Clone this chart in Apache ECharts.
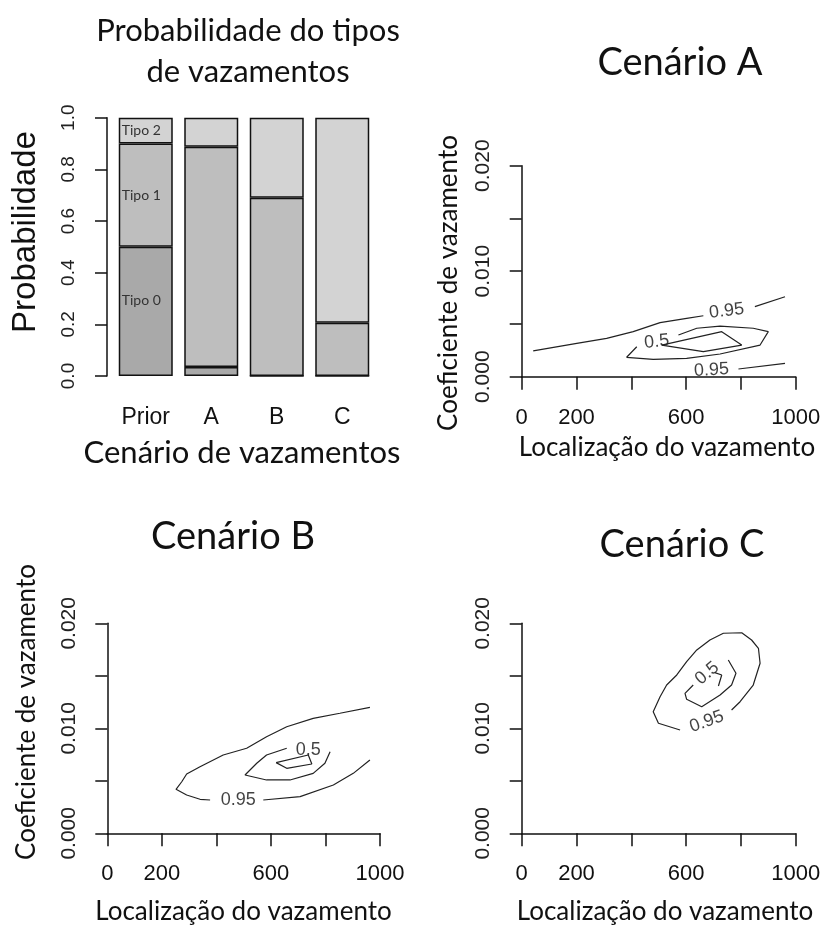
<!DOCTYPE html>
<html>
<head>
<meta charset="utf-8">
<script src="https://cdn.jsdelivr.net/npm/echarts@6/dist/echarts.min.js"></script>
<style>
html,body{margin:0;padding:0;background:#fff;}
#c{width:824px;height:929px;}
</style>
</head>
<body>
<div id="c"></div>
<script>
// ---------- data ----------
const categories = ['Prior', 'A', 'B', 'C'];
const tipo0 = [0.5, 0.035, 0, 0];
const tipo1 = [0.4, 0.853, 0.69, 0.206];
const tipo2 = [0.1, 0.112, 0.31, 0.794];
const tipoNames = ['Tipo 0', 'Tipo 1', 'Tipo 2'];
const barYTickLabels = ['0.0', '0.2', '0.4', '0.6', '0.8', '1.0'];

const xTickLabels = ['0', '200', '', '600', '', '1000'];
const yTickLabels = ['0.000', '', '0.010', '', '0.020'];

// Cenário A contours
const A95upperLeft = [[42,0.00244],[201,0.00316],[310,0.00364],[407,0.00427],[505,0.00512],[602,0.00553],[663,0.00578]];
const A95upperRight = [[851,0.00664],[961,0.00758]];
const A95lowerRight = [[791,0.00073],[961,0.00127]];
const A50 = [[572,0.00395],[639,0.00459],[724,0.0048],[845,0.00459],[900,0.00427],[870,0.0030],[724,0.00215],[602,0.00174],[480,0.00165],[383,0.00184],[420,0.00284]];
const Ainner = [[511,0.0030],[730,0.00427],[803,0.0030],[663,0.00237],[511,0.0030]];
const Alabels = [[748,0.00623,'0.95'],[493,0.00332,'0.5'],[693,0.00063,'0.95']];

// Cenário B contours
const B95right = [[572,0.00317],[707,0.00349],[829,0.0046],[902,0.00571],[963,0.00698]];
const B95left = [[377,0.00317],[340,0.00324],[291,0.00365],[252,0.00419],[273,0.00491],[291,0.00565],[340,0.00634],[425,0.00746],[511,0.0081],[584,0.0092],[658,0.01015],[755,0.01095],[853,0.01143],[963,0.012]];
const B50 = [[658,0.0081],[584,0.00746],[548,0.00667],[505,0.00555],[584,0.00508],[670,0.00508],[755,0.00571],[798,0.00667],[817,0.00777]];
const Binner = [[619,0.00673],[737,0.00746],[750,0.0066],[658,0.00619],[619,0.00673]];
const Blabels = [[480,0.00317,'0.95'],[737,0.00793,'0.5']];

// Cenário C contours
const C95 = [[766,0.01174],[797,0.01253],[845,0.01412],[870,0.01619],[864,0.01762],[839,0.01841],[803,0.0191],[736,0.01905],[687,0.01841],[639,0.01746],[602,0.01634],[566,0.01508],[529,0.01412],[505,0.01301],[480,0.01158],[499,0.01048],[578,0.00984]];
const C50 = [[754,0.0165],[782,0.01524],[766,0.01412],[724,0.01317],[657,0.01206],[602,0.01276],[596,0.01333],[626,0.01412]];
const Cinner = [[705,0.0153],[730,0.01508],[718,0.01403]];
const Clabels = [[675,0.01063,'0.95'],[677,0.01524,'0.5']];

// ---------- styles ----------
const labelAngles = {A:[7,6,3], B:[0,0], C:[20,40]};
const NUM = 'Liberation Sans, Arial, sans-serif';
const TXT = 'Lato, "Open Sans", sans-serif';
const INK = '#111';
const barColors = ['#a9a9a9', '#bebebe', '#d3d3d3'];

const chart = echarts.init(document.getElementById('c'), null, {renderer:'canvas'});

const grids = [
  {left:113, top:117.7, width:262, height:258.3},
  {left:521.7, top:165.7, width:274, height:211},
  {left:107.3, top:623.3, width:272.7, height:210},
  {left:521.7, top:623.3, width:274, height:210}
];

const xAxes = [{
  gridIndex:0, type:'category', data:categories,
  axisLine:{show:false}, axisTick:{show:false},
  axisLabel:{fontFamily:NUM, fontSize:23, color:INK, margin:30}
}];
const yAxes = [{
  gridIndex:0, type:'value', min:0, max:1, interval:0.2, offset:6,
  splitLine:{show:false},
  axisLine:{show:true, lineStyle:{color:INK, width:1.5}},
  axisTick:{show:true, length:12, lineStyle:{color:INK, width:1.5}},
  axisLabel:{fontFamily:NUM, fontSize:19, color:'#222', rotate:90, margin:29,
    formatter:(v)=>barYTickLabels[Math.round(v/0.2)]}
}];
for (let g=1; g<=3; g++){
  xAxes.push({
    gridIndex:g, type:'value', min:0, max:1000, interval:200,
    splitLine:{show:false},
    axisLine:{show:true, onZero:false, lineStyle:{color:INK, width:1.5}},
    axisTick:{show:true, length:13, lineStyle:{color:INK, width:1.5}},
    axisLabel:{fontFamily:NUM, fontSize:22, color:INK, margin:30, showMinLabel:true, showMaxLabel:true,
      formatter:(v)=>xTickLabels[Math.round(v/200)]}
  });
  yAxes.push({
    gridIndex:g, type:'value', min:0, max:0.02, interval:0.005,
    splitLine:{show:false},
    axisLine:{show:true, onZero:false, lineStyle:{color:INK, width:1.5}},
    axisTick:{show:true, length:12, lineStyle:{color:INK, width:1.5}},
    axisLabel:{fontFamily:NUM, fontSize:21, color:'#222', rotate:90, margin:28, showMinLabel:true, showMaxLabel:true,
      formatter:(v)=>yTickLabels[Math.round(v/0.005)]}
  });
}

const series = [];
[tipo0, tipo1, tipo2].forEach((arr, k) => {
  series.push({
    type:'bar', name:tipoNames[k], stack:'p', xAxisIndex:0, yAxisIndex:0,
    barWidth:54,
    itemStyle:{color:barColors[k], borderColor:'#111', borderWidth:1.5},
    data: arr.map((v, i) => ({
      value:v,
      label: i === 0 ? {show:true, formatter:tipoNames[k], position:'insideLeft', distance:3,
        offset: k === 0 ? [0,-11] : [0,0],
        fontFamily:TXT, fontSize:14, color:'#333'} : {show:false}
    })),
    animation:false
  });
});

function line(data, g){
  return {type:'line', xAxisIndex:g, yAxisIndex:g, data:data, symbol:'none',
    lineStyle:{color:'#222', width:1.2}, silent:true, animation:false};
}
function labels(arr, g, angles){
  return {type:'scatter', xAxisIndex:g, yAxisIndex:g, symbolSize:0, silent:true, animation:false,
    data: arr.map((d, i) => ({value:[d[0], d[1]], name:d[2],
      label:{show:true, position:'inside', formatter:'{b}', rotate:angles[i],
        fontFamily:NUM, fontSize:18, color:'#111'}}))};
}
[A95upperLeft, A95upperRight, A95lowerRight, A50, Ainner].forEach(d => series.push(line(d, 1)));
series.push(labels(Alabels, 1, labelAngles.A));
[B95right, B95left, B50, Binner].forEach(d => series.push(line(d, 2)));
series.push(labels(Blabels, 2, labelAngles.B));
[C95, C50, Cinner].forEach(d => series.push(line(d, 3)));
series.push(labels(Clabels, 3, labelAngles.C));

function txt(text, x, y, size, rot, family){
  return {type:'text', x:x, y:y, rotation:rot||0, silent:true,
    style:{text:text, fontFamily:family||TXT, fontSize:size, fill:INK, align:'center', verticalAlign:'middle'}};
}
const graphic = [
  txt('Probabilidade do tipos', 248, 31, 31),
  txt('de vazamentos', 248, 72, 31),
  txt('Probabilidade', 25.5, 232, 33, Math.PI/2, NUM),
  txt('Cenário de vazamentos', 242, 453, 31),
  txt('Cenário A', 680, 63, 38),
  txt('Cenário B', 233, 537, 38),
  txt('Cenário C', 682, 545, 38),
  txt('Localização do vazamento', 667, 448, 26),
  txt('Localização do vazamento', 243.5, 912, 26),
  txt('Localização do vazamento', 665, 912, 26),
  txt('Coeficiente de vazamento', 449, 283, 26, Math.PI/2),
  txt('Coeficiente de vazamento', 27, 712, 26, Math.PI/2)
];

chart.setOption({
  animation:false,
  backgroundColor:'#fff',
  grid:grids, xAxis:xAxes, yAxis:yAxes, series:series, graphic:graphic
});
</script>
</body>
</html>
